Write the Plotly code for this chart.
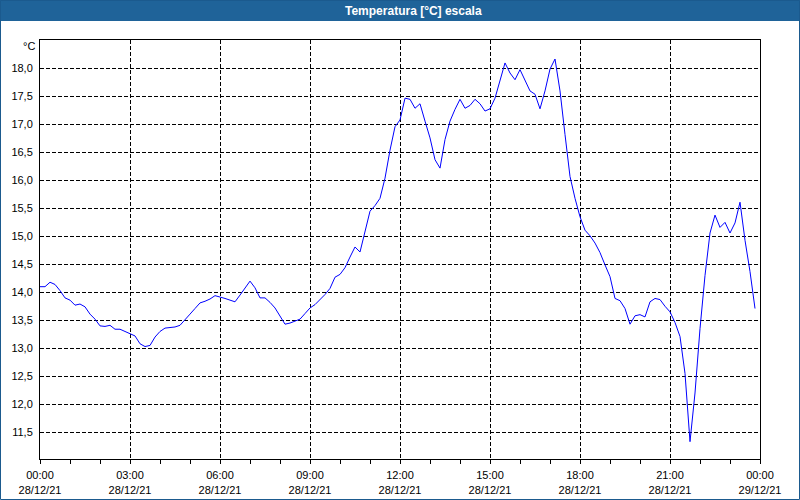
import plotly.graph_objects as go
import pandas as pd

start = "2021-12-28 00:00"
temps = [
    14.10, 14.10, 14.18, 14.14, 14.03, 13.90, 13.86, 13.77, 13.79, 13.74,
    13.61, 13.52, 13.40, 13.39, 13.41, 13.34, 13.34, 13.30, 13.26, 13.22,
    13.08, 13.03, 13.05, 13.20, 13.30, 13.36, 13.37, 13.38, 13.41, 13.52,
    13.61, 13.71, 13.81, 13.84, 13.88, 13.94, 13.92, 13.89, 13.86, 13.83,
    13.95, 14.08, 14.20, 14.08, 13.90, 13.90, 13.82, 13.72, 13.57, 13.43,
    13.45, 13.48, 13.52, 13.62, 13.72, 13.78, 13.87, 13.96, 14.07, 14.27,
    14.32, 14.44, 14.63, 14.81, 14.72, 15.06, 15.45, 15.55, 15.68, 16.04,
    16.54, 16.96, 17.08, 17.47, 17.45, 17.29, 17.37, 17.06, 16.76, 16.37,
    16.22, 16.73, 17.06, 17.27, 17.45, 17.29, 17.34, 17.45, 17.37, 17.24,
    17.28, 17.47, 17.77, 18.10, 17.92, 17.80, 17.98, 17.80, 17.60, 17.54,
    17.28, 17.60, 17.99, 18.17, 17.60, 16.82, 16.07, 15.68, 15.35, 15.11,
    15.01, 14.88, 14.71, 14.49, 14.28, 13.89, 13.85, 13.71, 13.43, 13.58,
    13.60, 13.56, 13.83, 13.89, 13.87, 13.75, 13.65, 13.46, 13.21, 12.55,
    11.33, 12.20, 13.35, 14.30, 15.06, 15.38, 15.16, 15.25, 15.06, 15.24,
    15.61, 14.93, 14.37, 13.71,
]
times = pd.date_range(start, periods=len(temps), freq="10min")

tick_vals = pd.date_range("2021-12-28 00:00", "2021-12-29 00:00", freq="3h")
tick_text = [
    "00:00<br>28/12/21", "03:00<br>28/12/21", "06:00<br>28/12/21",
    "09:00<br>28/12/21", "12:00<br>28/12/21", "15:00<br>28/12/21",
    "18:00<br>28/12/21", "21:00<br>28/12/21", "00:00<br>29/12/21",
]
title_text = "Temperatura [°C] escala"
unit_text = "°C"

W, H = 800, 500
ML, MR, MT, MB = 40, 40, 40, 41
PW, PH = W - ML - MR, H - MT - MB

def px_x(p):
    return (p - ML) / PW

def px_y(p):
    return 1 - (p - MT) / PH

fig = go.Figure()
fig.add_trace(go.Scatter(
    x=times, y=temps, mode="lines",
    line=dict(color="#0000ff", width=1), hoverinfo="skip",
))

font_main = "Liberation Sans, Arial, sans-serif"
fig.update_layout(
    width=W, height=H,
    margin=dict(l=ML, r=MR, t=MT, b=MB, pad=0, autoexpand=False),
    paper_bgcolor="#ffffff", plot_bgcolor="#ffffff",
    showlegend=False,
    separators=",.",
    font=dict(family=font_main, size=11, color="#000000"),
    xaxis=dict(
        type="date", automargin=False,
        range=["2021-12-28 00:00", "2021-12-29 00:00"],
        tickvals=list(tick_vals), ticktext=tick_text,
        ticks="outside", ticklen=4, tickcolor="#000000", tickwidth=1,
        ticklabelstandoff=2,
        minor=dict(ticks="outside", ticklen=4, dtick=3600000, tickcolor="#000000", showgrid=False),
        showgrid=True, gridcolor="#000000", gridwidth=1, griddash="4px,2px",
        showline=True, linecolor="#000000", linewidth=1, mirror=True,
        zeroline=False, tickfont=dict(size=11, family=font_main),
    ),
    yaxis=dict(
        automargin=False,
        range=[11.02, 18.51],
        tickvals=[11.5, 12.0, 12.5, 13.0, 13.5, 14.0, 14.5, 15.0, 15.5, 16.0, 16.5, 17.0, 17.5, 18.0],
        tickformat=".1f",
        ticks="", ticklabelstandoff=4,
        showgrid=True, gridcolor="#000000", gridwidth=1, griddash="4px,2px",
        showline=True, linecolor="#000000", linewidth=1, mirror=True,
        zeroline=False, tickfont=dict(size=11, family=font_main),
    ),
    shapes=[
        dict(type="rect", xref="paper", yref="paper",
             x0=px_x(0), x1=px_x(W), y0=px_y(21), y1=px_y(0),
             fillcolor="#1f6399", line=dict(width=0), layer="above"),
        dict(type="rect", xref="paper", yref="paper",
             x0=px_x(0.5), x1=px_x(W - 0.5), y0=px_y(H - 0.5), y1=px_y(0.5),
             fillcolor="rgba(0,0,0,0)", line=dict(color="#1b5a8e", width=1), layer="above"),
    ],
    annotations=[
        dict(text="<b>" + title_text + "</b>", xref="paper", yref="paper",
             x=px_x(413), y=px_y(10.5), xanchor="center", yanchor="middle",
             showarrow=False, font=dict(color="#ffffff", size=12, family=font_main)),
        dict(text=unit_text, xref="paper", yref="paper",
             x=px_x(37), y=px_y(46), xanchor="right", yanchor="middle",
             showarrow=False, font=dict(color="#000000", size=11, family=font_main)),
    ],
)

fig.write_html("out.html")
